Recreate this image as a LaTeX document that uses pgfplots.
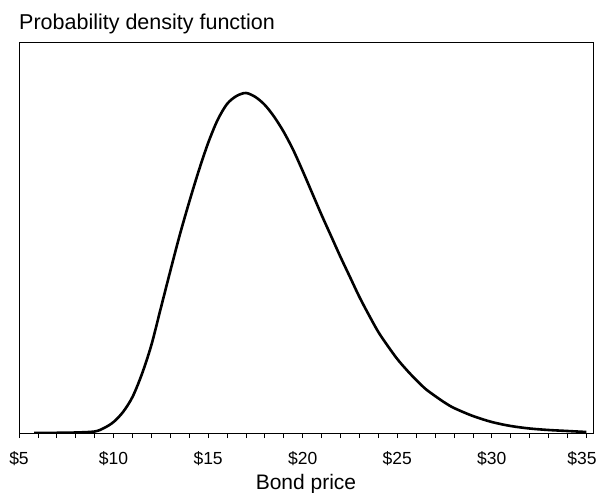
\documentclass[border=0pt]{standalone}
\usepackage{pgfplots}
\pgfplotsset{compat=1.18}
\usepackage{fontspec}
\setmainfont{Liberation Sans}

% curve heights (arbitrary density units)
\pgfplotstableread{
price dens
5.8  0
7    0.2
8    0.5
9    1.5
9.5  5
10   11
10.5 21
11   36
11.5 59
12   88
12.5 125
13   162
13.5 198
14   231
14.5 262
15   290
15.5 313
16   329
16.5 337
17   340
17.5 336
18   328
18.5 316
19   301
19.5 283
20   262
20.5 240
21   218
21.5 197
22   176
22.5 156
23   136
23.5 118
24   101
24.5 87
25   74
25.5 63
26   53
26.5 44
27   37
27.5 30.5
28   25
29   17
30   11
31   7
32   4.5
33   3
34   2
35   1
}\pdfdata

\begin{document}
\begin{tikzpicture}
\begin{axis}[
    scale only axis,
    width=574pt, height=391pt,
    xmin=5, xmax=35.35,
    ymin=0, ymax=391,
    ytick=\empty,
    xtick={5,10,...,35},
    xticklabels={\$5,\$10,\$15,\$20,\$25,\$30,\$35\rule{9pt}{0pt}},
    minor x tick num=4,
    tick align=outside,
    xtick pos=bottom,
    major tick length=5pt,
    minor tick length=5pt,
    axis line style={line width=0.8pt},
    every tick/.style={black, line width=0.8pt},
    xticklabel style={font=\fontsize{17.5}{21}\selectfont, anchor=base, yshift=-26pt, inner xsep=0pt},
]
\addplot[black, line width=2.6pt, smooth] table[x=price, y=dens] {\pdfdata};
\end{axis}
\node[anchor=base west, font=\fontsize{21.5}{25}\selectfont, inner sep=0pt]
    at ([yshift=12pt]current axis.north west) {Probability density function};
\node[anchor=base, font=\fontsize{21}{25}\selectfont, inner sep=0pt]
    at ([yshift=-56pt]current axis.south) {Bond price};
\pgfresetboundingbox
\path ([xshift=-19pt, yshift=-59pt]current axis.south west) rectangle
      ([xshift=3pt, yshift=42pt]current axis.north east);
\end{tikzpicture}
\end{document}
